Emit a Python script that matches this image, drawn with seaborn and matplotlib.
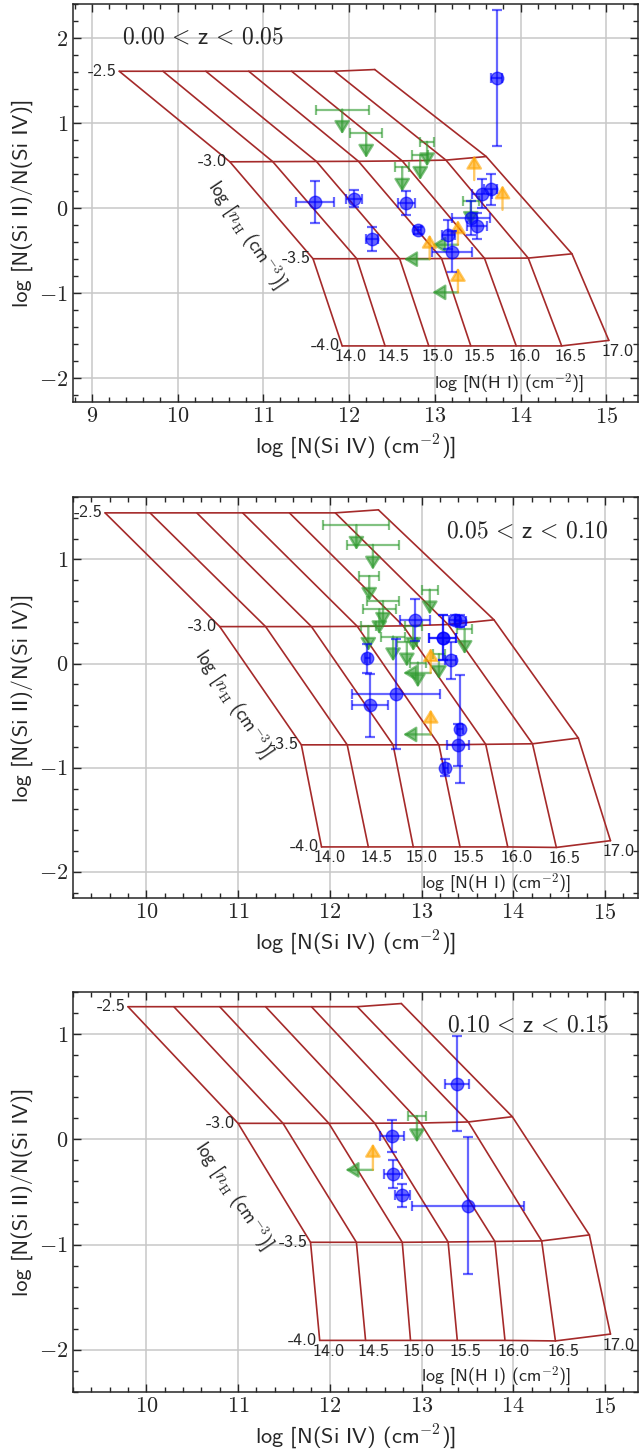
import matplotlib
matplotlib.use("Agg")
import matplotlib.pyplot as plt
import seaborn as sns
import pandas as pd
from matplotlib.ticker import MultipleLocator, FuncFormatter

# -------------------------------
# Labels
# -------------------------------
nh_labels = ["-2.5", "-3.0", "-3.5", "-4.0"]
nhi_labels = ["14.0", "14.5", "15.0", "15.5", "16.0", "16.5", "17.0"]
z_labels = [r"$0.00\, <\, \mathsf{z}\, <\, 0.05$",
            r"$0.05\, <\, \mathsf{z}\, <\, 0.10$",
            r"$0.10\, <\, \mathsf{z}\, <\, 0.15$"]

# -------------------------------
# Model grids (rows: log nH, columns: log N(HI))
# -------------------------------
grid1_x = [[9.32, 9.83, 10.33, 10.83, 11.33, 11.83, 12.30],
           [10.61, 11.11, 11.62, 12.11, 12.62, 13.13, 13.60],
           [11.58, 12.09, 12.59, 13.08, 13.58, 14.09, 14.60],
           [11.92, 12.42, 12.93, 13.42, 13.95, 14.48, 15.03]]
grid1_y = [[1.61, 1.61, 1.61, 1.61, 1.61, 1.61, 1.63],
           [0.545, 0.547, 0.549, 0.551, 0.556, 0.565, 0.607],
           [-0.595, -0.595, -0.594, -0.593, -0.590, -0.587, -0.537],
           [-1.62, -1.62, -1.62, -1.62, -1.62, -1.62, -1.555]]

grid2_x = [[9.55, 10.04, 10.55, 11.05, 11.56, 12.06, 12.53],
           [10.80, 11.30, 11.80, 12.30, 12.80, 13.29, 13.79],
           [11.69, 12.19, 12.69, 13.19, 13.70, 14.21, 14.71],
           [11.91, 12.42, 12.91, 13.42, 13.94, 14.47, 15.06]]
grid2_y = [[1.447, 1.447, 1.447, 1.447, 1.447, 1.447, 1.476],
           [0.355, 0.355, 0.355, 0.357, 0.362, 0.375, 0.42],
           [-0.78, -0.78, -0.78, -0.78, -0.775, -0.77, -0.715],
           [-1.76, -1.76, -1.76, -1.76, -1.76, -1.765, -1.70]]

grid3_x = [[9.80, 10.30, 10.80, 11.30, 11.80, 12.30, 12.78],
           [11.00, 11.49, 11.99, 12.49, 12.99, 13.51, 13.99],
           [11.79, 12.29, 12.79, 13.29, 13.80, 14.31, 14.83],
           [11.89, 12.39, 12.88, 13.39, 13.91, 14.46, 15.06]]
grid3_y = [[1.26, 1.26, 1.26, 1.26, 1.26, 1.26, 1.29],
           [0.152, 0.152, 0.152, 0.153, 0.155, 0.165, 0.215],
           [-0.978, -0.978, -0.978, -0.975, -0.970, -0.965, -0.908],
           [-1.91, -1.91, -1.91, -1.91, -1.91, -1.915, -1.85]]

# -------------------------------
# Detections (blue)
# -------------------------------
det1_x = [11.60, 12.06, 12.27, 12.67, 12.80, 13.16, 13.20, 13.42, 13.49, 13.55, 13.65, 13.72]
det1_y = [0.07, 0.11, -0.36, 0.06, -0.26, -0.31, -0.51, -0.12, -0.21, 0.17, 0.22, 1.53]
det1_xerr = [0.22, 0.09, 0.07, 0.10, 0.04, 0.08, 0.23, 0.22, 0.12, 0.12, 0.08, 0.06]
det1_yerr = [0.25, 0.10, 0.14, 0.14, 0.04, 0.17, 0.24, 0.20, 0.15, 0.17, 0.18, 0.80]

det2_x = [12.93, 13.36, 13.42, 13.23, 13.23, 13.32, 12.41, 12.72, 12.44, 13.42, 13.40, 13.26]
det2_y = [0.42, 0.42, 0.41, 0.25, 0.25, 0.03, 0.05, -0.29, -0.40, -0.63, -0.78, -1.00]
det2_xerr = [0.16, 0.06, 0.06, 0.15, 0.15, 0.06, 0.03, 0.48, 0.20, 0.03, 0.12, 0.03]
det2_yerr = [0.20, 0.05, 0.06, 0.22, 0.22, 0.18, 0.14, 0.53, 0.30, 0.52, 0.20, 0.08]

det3_x = [13.39, 12.68, 12.69, 12.79, 13.51]
det3_y = [0.53, 0.03, -0.33, -0.53, -0.63]
det3_xerr = [0.13, 0.13, 0.10, 0.08, 0.61]
det3_yerr = [0.45, 0.15, 0.13, 0.11, 0.65]

# -------------------------------
# Upper limits on the ratio (green, arrow down)
# -------------------------------
up1_x = [11.92, 12.20, 12.62, 12.83, 12.91, 13.42]
up1_y = [1.16, 0.88, 0.48, 0.62, 0.78, 0.09]
up1_xerr = [0.31, 0.19, 0.08, 0.09, 0.08, 0.09]

up2_x = [12.29, 12.47, 12.43, 13.09, 12.58, 12.54, 12.42, 12.69, 12.84, 12.96, 13.19, 13.47, 12.91]
up2_y = [1.33, 1.14, 0.84, 0.71, 0.60, 0.52, 0.36, 0.26, 0.21, 0.01, 0.09, 0.33, 0.36]
up2_xerr = [0.36, 0.28, 0.11, 0.09, 0.17, 0.18, 0.08, 0.13, 0.11, 0.09, 0.07, 0.08, 0.09]

up3_x = [12.95]
up3_y = [0.22]
up3_xerr = [0.10]

# -------------------------------
# Upper limits on N(Si IV) (green, arrow left)
# -------------------------------
left1_x = [12.94, 13.27, 13.27]
left1_y = [-0.60, -0.43, -0.99]
left2_x = [13.10, 13.10]
left2_y = [-0.09, -0.68]
left3_x = [12.47]
left3_y = [-0.29]

# -------------------------------
# Lower limits on the ratio (orange, arrow up)
# -------------------------------
low1_x = [12.94, 13.27, 13.27, 13.46, 13.79]
low1_y = [-0.60, -0.43, -0.99, 0.33, -0.02]
low2_x = [13.10, 13.10]
low2_y = [-0.09, -0.68]
low3_x = [12.47]
low3_y = [-0.29]

# label positions and axis limits per panel
nhlab_pos = [(10.80, -0.31), (10.95, -0.39), (10.95, -0.54)]
nhi_title_pos = [(12.99, -2.06), (12.99, -2.11), (12.99, -2.25)]
z_pos = [(0.086, 0.917, "left"), (0.948, 0.914, "right"), (0.948, 0.917, "right")]
xlims = [(8.78, 15.37), (9.2, 15.36), (9.2, 15.36)]
ylims = [(-2.28, 2.40), (-2.25, 1.60), (-2.40, 1.40)]
arrow_len_y = [0.29, 0.24, 0.25]
arrow_len_x = 0.30

panels = [
    (grid1_x, grid1_y, det1_x, det1_y, det1_xerr, det1_yerr, up1_x, up1_y, up1_xerr, left1_x, left1_y, low1_x, low1_y),
    (grid2_x, grid2_y, det2_x, det2_y, det2_xerr, det2_yerr, up2_x, up2_y, up2_xerr, left2_x, left2_y, low2_x, low2_y),
    (grid3_x, grid3_y, det3_x, det3_y, det3_xerr, det3_yerr, up3_x, up3_y, up3_xerr, left3_x, left3_y, low3_x, low3_y),
]

# -------------------------------
# Style
# -------------------------------
sns.set_style("ticks")
plt.rcParams["font.family"] = ["cmss10", "DejaVu Sans"]
plt.rcParams["mathtext.fontset"] = "cm"
plt.rcParams["axes.unicode_minus"] = False

GRID_COL = "#a52a2a"
BLUE = "b"
GREEN = "#2e9a2e"
ORANGE = "orange"

fig = plt.figure(figsize=(6.39, 14.53), dpi=100)
boxes = [[0.1142, 0.7233, 0.8842, 0.2739],
         [0.1142, 0.3820, 0.8842, 0.2760],
         [0.1142, 0.0420, 0.8842, 0.2753]]


def arrow(ax, x0, y0, x1, y1, color):
    ax.annotate("", xy=(x1, y1), xytext=(x0, y0),
                arrowprops=dict(arrowstyle="-|>,head_length=0.52,head_width=0.32",
                                color=color, alpha=0.6, lw=1.7,
                                shrinkA=0, shrinkB=0, mutation_scale=15),
                zorder=4)


for k, (gx, gy, dx, dy, dxe, dye, ux, uy, uxe, lx, ly, ox, oy) in enumerate(panels):
    ax = fig.add_axes(boxes[k])

    # model grid lines
    rows = []
    for i in range(len(gx)):
        for j in range(len(gx[i])):
            rows.append({"x": gx[i][j], "y": gy[i][j], "line": f"r{i}", "order": j})
    for j in range(len(gx[0])):
        for i in range(len(gx)):
            rows.append({"x": gx[i][j], "y": gy[i][j], "line": f"c{j}", "order": i})
    gdf = pd.DataFrame(rows)
    sns.lineplot(data=gdf, x="x", y="y", units="line", estimator=None, sort=False,
                 color=GRID_COL, lw=1.2, ax=ax, zorder=2, legend=False)

    # grid labels
    for i, lbl in enumerate(nh_labels):
        ax.annotate(lbl, (gx[i][0], gy[i][0]), xytext=(-2, 0), textcoords="offset points",
                    ha="right", va="center", fontsize=13)
    for j, lbl in enumerate(nhi_labels):
        ax.annotate(lbl, (gx[3][j], gy[3][j]), xytext=(-5.5, -2.5), textcoords="offset points",
                    ha="left", va="top", fontsize=13)
    ax.text(*nhi_title_pos[k], r"log [N(H I) (cm$^{-2}$)]", ha="left", va="center", fontsize=13)
    ax.text(*nhlab_pos[k], r"log [$n_{\rm H}$ (cm$^{-3}$)]", rotation=-56,
            ha="center", va="center", rotation_mode="anchor", fontsize=13.5)

    # detections
    ax.errorbar(dx, dy, xerr=dxe, yerr=dye, fmt="o", color=BLUE, ms=9, alpha=0.6,
                elinewidth=1.6, capsize=3.8, capthick=1.6, zorder=5)

    # upper limits on ratio
    ax.errorbar(ux, uy, xerr=uxe, fmt="none", ecolor=GREEN, alpha=0.6,
                elinewidth=1.6, capsize=3.8, capthick=1.6, zorder=4)
    for x, y in zip(ux, uy):
        arrow(ax, x, y, x, y - arrow_len_y[k], GREEN)
    for x, y in zip(lx, ly):
        arrow(ax, x, y, x - arrow_len_x, y, GREEN)
    for x, y in zip(ox, oy):
        arrow(ax, x, y, x, y + arrow_len_y[k], ORANGE)

    ax.text(z_pos[k][0], z_pos[k][1], z_labels[k], transform=ax.transAxes,
            ha=z_pos[k][2], va="center", fontsize=17)

    ax.set_xlim(*xlims[k])
    ax.set_ylim(*ylims[k])
    ax.xaxis.set_major_locator(MultipleLocator(1))
    ax.xaxis.set_minor_locator(MultipleLocator(0.2))
    ax.yaxis.set_major_locator(MultipleLocator(1))
    ax.yaxis.set_minor_locator(MultipleLocator(0.2))
    fmt = FuncFormatter(lambda v, p: f"${v:.0f}$")
    ax.xaxis.set_major_formatter(fmt)
    ax.yaxis.set_major_formatter(fmt)
    ax.tick_params(which="both", direction="in", top=True, right=True, labelsize=16, width=1)
    ax.tick_params(which="major", length=6)
    ax.tick_params(which="minor", length=3.5)
    ax.grid(True, which="major", color="#c8c8c8", lw=1.1)
    ax.set_axisbelow(True)
    for s in ax.spines.values():
        s.set_linewidth(1.1)
    ax.set_xlabel(r"log [N(Si IV) (cm$^{-2}$)]", fontsize=16)
    ax.set_ylabel(r"log [N(Si II)/N(Si IV)]", fontsize=16)

fig.savefig("out.png", dpi=100)
